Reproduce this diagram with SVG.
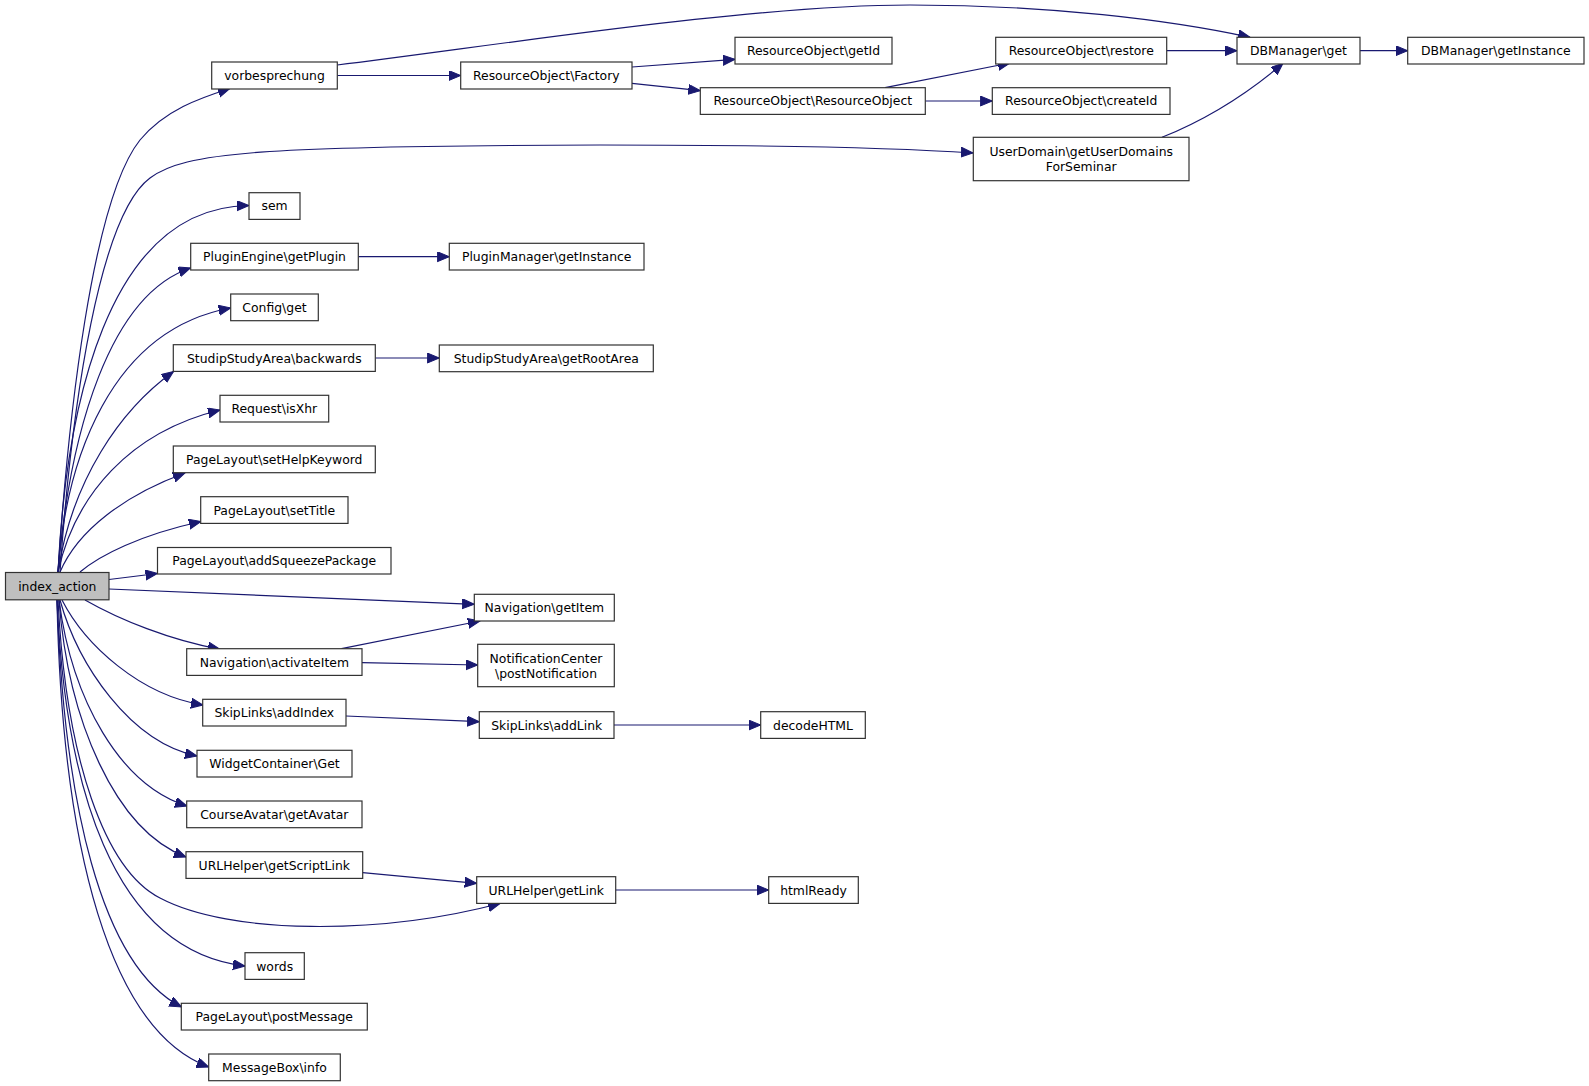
<svg xmlns="http://www.w3.org/2000/svg" width="1589" height="1086" viewBox="0 0 1589 1086">
<style>
.n rect{fill:#ffffff;stroke:#333333;stroke-width:1.2}
.n.root rect{fill:#bfbfbf}
.n text{font-family:"DejaVu Sans","Liberation Sans",sans-serif;font-size:12.4px;fill:#000000;text-anchor:middle}
.e path{fill:none;stroke:#191970;stroke-width:1.2;marker-end:url(#arr)}
</style>
<defs>
<marker id="arr" markerUnits="userSpaceOnUse" markerWidth="14" markerHeight="12" refX="12" refY="5" orient="auto">
<path d="M0,0 L12,5 L0,10 z" fill="#191970" stroke="#191970" stroke-width="1"/>
</marker>
</defs>
<rect x="0" y="0" width="1589" height="1086" fill="#ffffff"/>
<g id="edges" class="e">
<path d="M58,572 C68,420 92,200 140,140 C165,110 200,98 230,88.5"/>
<path d="M60,572 C72,400 100,215 150,178 C185,152 260,146 600,145 C800,145 900,148 973,153"/>
<path d="M58,572 C66,410 106,207 249,205.5"/>
<path d="M58,572 C70,430 110,295 190.5,268"/>
<path d="M58,572 C66,460 110,330 230.7,308"/>
<path d="M58,572 C72,480 120,410 173.5,371.5"/>
<path d="M58,572 C75,495 130,432 220,410"/>
<path d="M60,572 C78,530 125,495 185,473"/>
<path d="M80,572 C100,555 140,535 201,521.5"/>
<path d="M109,579.5 L157.5,573.5"/>
<path d="M109,589 L474.3,604.3"/>
<path d="M85,600 C120,620 170,640 220,649.3"/>
<path d="M62,600 C85,645 140,695 203,705"/>
<path d="M60,600 C78,665 130,742 197,756"/>
<path d="M59,600 C72,700 120,785 187,806"/>
<path d="M59,600 C68,720 115,830 186,857"/>
<path d="M58,600 C66,760 105,870 160,898 C230,935 380,935 500,903.5"/>
<path d="M57,600 C65,780 110,950 245,966"/>
<path d="M57,600 C64,800 100,965 181.5,1007"/>
<path d="M57,600 C62,850 110,1030 208.7,1067"/>
<path d="M337.3,75.5 L460.7,75.5"/>
<path d="M337.3,65 C500,45 750,5 910,5 C1050,5 1170,20 1250,37.3"/>
<path d="M632,67 L735,59.3"/>
<path d="M632,83.3 L700.3,90.7"/>
<path d="M885,87.7 L1010,63"/>
<path d="M925.3,101 L992.3,101"/>
<path d="M1166.7,50.7 L1237,50.7"/>
<path d="M1360,50.7 L1407.7,50.7"/>
<path d="M1162,137.3 C1200,122 1240,100 1283,63.3"/>
<path d="M358.3,256.7 L449.3,256.7"/>
<path d="M375.3,358 L439.3,358"/>
<path d="M341.5,648.7 L480,621"/>
<path d="M362,662.7 L477.7,665"/>
<path d="M346,716 L479.3,721.7"/>
<path d="M614,725 L760.7,725"/>
<path d="M362.7,872.7 L476.7,883.3"/>
<path d="M615.7,890 L768.7,890"/>
</g>
<g id="index_action" class="n root"><rect x="5.5" y="572.5" width="103.5" height="27.3"/><text x="57.3" y="590.6">index_action</text></g>
<g id="vorbesprechung" class="n"><rect x="211.7" y="62" width="125.6" height="27"/><text x="274.5" y="80">vorbesprechung</text></g>
<g id="ro_factory" class="n"><rect x="460.7" y="62" width="171.3" height="27"/><text x="546.3" y="80">ResourceObject\Factory</text></g>
<g id="ro_getid" class="n"><rect x="735" y="37.3" width="157" height="26.7"/><text x="813.5" y="55.1">ResourceObject\getId</text></g>
<g id="ro_ro" class="n"><rect x="700.3" y="87.7" width="225" height="26.7"/><text x="812.8" y="105.4">ResourceObject\ResourceObject</text></g>
<g id="ro_restore" class="n"><rect x="995.7" y="37.3" width="171" height="26.7"/><text x="1081.2" y="55.1">ResourceObject\restore</text></g>
<g id="ro_createid" class="n"><rect x="992.3" y="87.7" width="177.7" height="26.7"/><text x="1081.2" y="105.4">ResourceObject\createId</text></g>
<g id="db_get" class="n"><rect x="1237" y="37.3" width="123" height="26.7"/><text x="1298.5" y="55.1">DBManager\get</text></g>
<g id="db_getinstance" class="n"><rect x="1407.7" y="37.3" width="176.3" height="26.7"/><text x="1495.8" y="55.1">DBManager\getInstance</text></g>
<g id="userdomain" class="n"><rect x="973.3" y="137.3" width="215.7" height="43.4"/><text x="1081.2" y="156">UserDomain\getUserDomains</text><text x="1081.2" y="171">ForSeminar</text></g>
<g id="sem" class="n"><rect x="249" y="192.7" width="51" height="26.7"/><text x="274.5" y="210.4">sem</text></g>
<g id="pe_getplugin" class="n"><rect x="190.7" y="243.3" width="167.6" height="26.7"/><text x="274.5" y="261.1">PluginEngine\getPlugin</text></g>
<g id="pm_getinstance" class="n"><rect x="449.3" y="243.3" width="194.7" height="26.7"/><text x="546.7" y="261.1">PluginManager\getInstance</text></g>
<g id="config_get" class="n"><rect x="230.7" y="294" width="87.6" height="26.7"/><text x="274.5" y="311.8">Config\get</text></g>
<g id="ssa_backwards" class="n"><rect x="173.3" y="344.7" width="202" height="26.7"/><text x="274.3" y="362.5">StudipStudyArea\backwards</text></g>
<g id="ssa_getrootarea" class="n"><rect x="439.3" y="345" width="214" height="26.7"/><text x="546.3" y="362.8">StudipStudyArea\getRootArea</text></g>
<g id="request_isxhr" class="n"><rect x="220" y="395.3" width="108.7" height="26.7"/><text x="274.3" y="413.1">Request\isXhr</text></g>
<g id="pl_sethelpkeyword" class="n"><rect x="173.3" y="446" width="202" height="26.7"/><text x="274.3" y="463.8">PageLayout\setHelpKeyword</text></g>
<g id="pl_settitle" class="n"><rect x="200.7" y="496.7" width="147.3" height="26.7"/><text x="274.3" y="514.5">PageLayout\setTitle</text></g>
<g id="pl_addsqueeze" class="n"><rect x="157.5" y="547.5" width="233.5" height="26.5"/><text x="274.2" y="565.2">PageLayout\addSqueezePackage</text></g>
<g id="nav_getitem" class="n"><rect x="474.3" y="594.3" width="140" height="26.7"/><text x="544.3" y="612.1">Navigation\getItem</text></g>
<g id="nav_activateitem" class="n"><rect x="186.7" y="648.7" width="175.3" height="26.7"/><text x="274.3" y="666.5">Navigation\activateItem</text></g>
<g id="nc_postnotification" class="n"><rect x="477.7" y="644.3" width="136.6" height="42.4"/><text x="546" y="662.7">NotificationCenter</text><text x="546" y="677.7">\postNotification</text></g>
<g id="sl_addindex" class="n"><rect x="202.7" y="699.3" width="143.3" height="26.7"/><text x="274.3" y="717.1">SkipLinks\addIndex</text></g>
<g id="sl_addlink" class="n"><rect x="479.3" y="711.7" width="134.7" height="26.7"/><text x="546.7" y="729.5">SkipLinks\addLink</text></g>
<g id="decodehtml" class="n"><rect x="760.7" y="711.7" width="104.6" height="26.7"/><text x="813" y="729.5">decodeHTML</text></g>
<g id="wc_get" class="n"><rect x="197" y="750.3" width="155" height="26.7"/><text x="274.5" y="768.1">WidgetContainer\Get</text></g>
<g id="ca_getavatar" class="n"><rect x="186.7" y="801" width="175.3" height="26.7"/><text x="274.3" y="818.8">CourseAvatar\getAvatar</text></g>
<g id="url_getscriptlink" class="n"><rect x="186" y="851.7" width="176.7" height="26.7"/><text x="274.3" y="869.5">URLHelper\getScriptLink</text></g>
<g id="url_getlink" class="n"><rect x="476.7" y="876.7" width="139" height="26.7"/><text x="546.2" y="894.5">URLHelper\getLink</text></g>
<g id="htmlready" class="n"><rect x="768.7" y="876.7" width="89.6" height="26.7"/><text x="813.5" y="894.5">htmlReady</text></g>
<g id="words" class="n"><rect x="245" y="952.7" width="59.3" height="26.7"/><text x="274.7" y="970.5">words</text></g>
<g id="pl_postmessage" class="n"><rect x="181.3" y="1003.3" width="186" height="26.7"/><text x="274.3" y="1021.1">PageLayout\postMessage</text></g>
<g id="mb_info" class="n"><rect x="208.7" y="1054" width="131.6" height="26.7"/><text x="274.5" y="1071.8">MessageBox\info</text></g>
</svg>
